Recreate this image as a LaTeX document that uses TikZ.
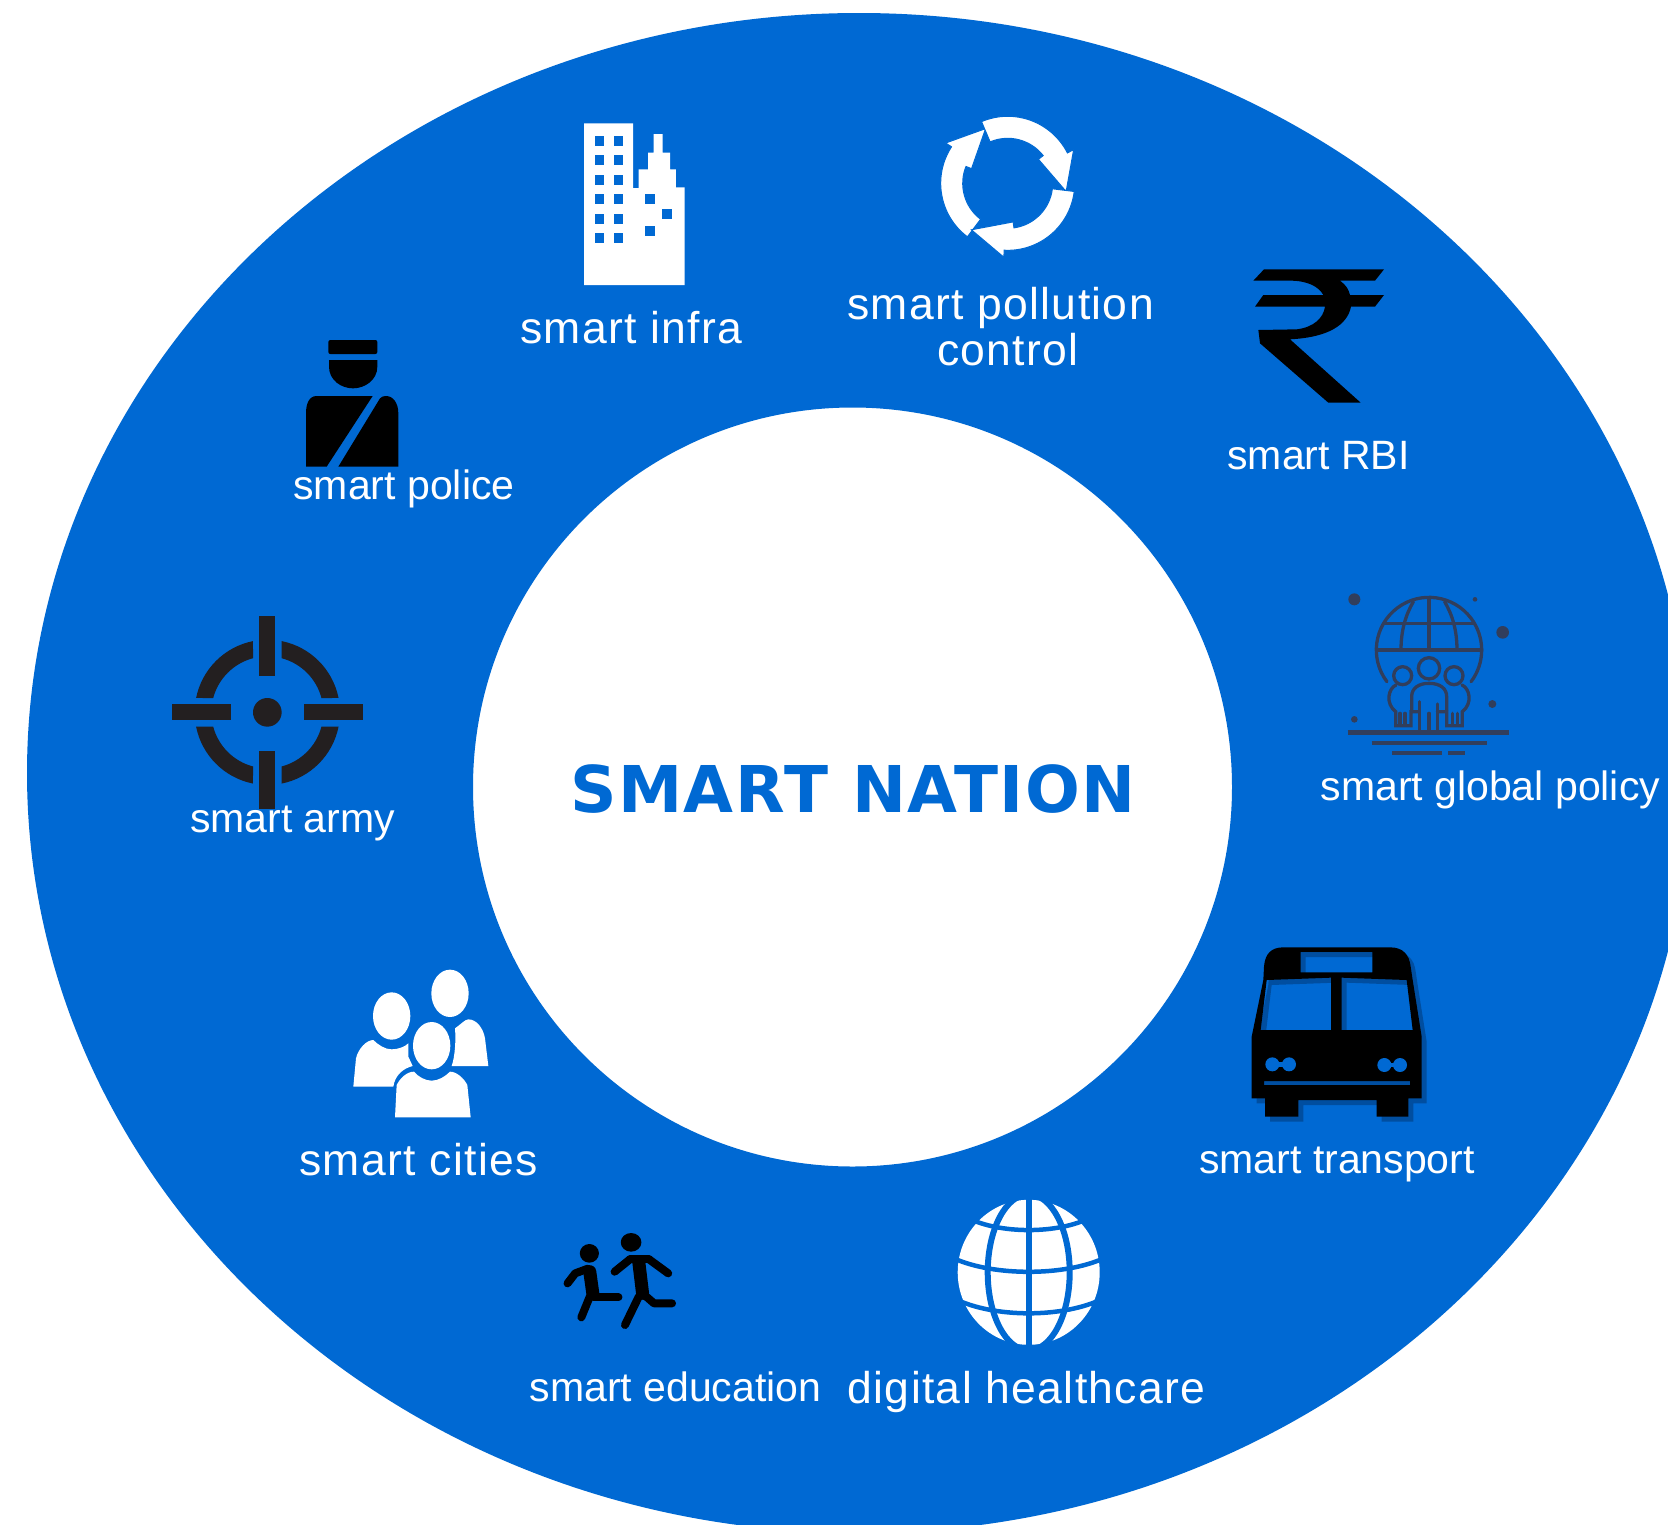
\documentclass[tikz,border=0pt]{standalone}
\usepackage{fontspec}
\setmainfont{Liberation Sans}
\newfontfamily\titlefont[LetterSpace=2.5]{DejaVu Sans}
\newfontfamily\wideface[LetterSpace=3]{Liberation Sans}
\definecolor{ringblue}{RGB}{0,105,211}
\definecolor{shadowblue}{RGB}{0,78,160}
\definecolor{targetink}{RGB}{35,31,32}
\definecolor{policyink}{RGB}{49,62,92}
\tikzset{
  bigtxt/.style={text=white,anchor=base,inner sep=0pt,font=\wideface\fontsize{44.5}{48}\selectfont},
  smalltxt/.style={text=white,anchor=base,inner sep=0pt,font=\fontsize{41}{44}\selectfont},
  titletxt/.style={text=ringblue,anchor=base,inner sep=0pt,font=\titlefont\bfseries\fontsize{64.5}{68}\selectfont},
  whiteicon/.style={fill=white,draw=none},
  blackicon/.style={fill=black,draw=none},
  policyline/.style={draw=policyink,line width=3.3pt,line cap=round},
  policybar/.style={draw=policyink,line width=4pt},
  limbthin/.style={draw=black,line width=8pt,line cap=round,line join=round},
  limbthick/.style={draw=black,line width=13pt,line cap=round,line join=round},
  globegrid/.style={draw=ringblue,line width=6pt}
}
\begin{document}
\begin{tikzpicture}[x=1pt,y=-1pt]
\useasboundingbox (0,0) rectangle (1668,1524);
\clip (0,0) rectangle (1668,1524);
\fill[white] (0,0) rectangle (1668,1524);
% ring
\fill[ringblue,even odd rule] (859,773) ellipse[x radius=832,y radius=760] (852.5,787) circle[radius=379.5];

% building
\fill[whiteicon] (584,123.3) -- (633,123.3) -- (633,188) -- (638.7,188) -- (638.7,169.3) -- (648,169.3) -- (648,152.7) -- (653.7,152.7) -- (653.7,134) -- (662.5,134) -- (662.5,152.7) -- (670,152.7) -- (670,169.3) -- (675.9,169.3) -- (675.9,187.3) -- (684.7,187.3) -- (684.7,285) -- (584,285) -- cycle;
\foreach \wx in {599.3,618.5}
  \foreach \wy in {141,160.3,179.7,199,218.7,238.3}
    \fill[ringblue] (\wx-4.5,\wy-5) rectangle (\wx+4.5,\wy+5);
\foreach \wx/\wy in {649.8/199,667.4/214,649.8/231.3}
  \fill[ringblue] (\wx-5,\wy-5) rectangle (\wx+5,\wy+5);

% recycling arrows
\begin{scope}[shift={(1007.7,183.3)}]
\foreach \ra in {0,120,240}
  \filldraw[fill=white,draw=ringblue,line width=1pt]
    ({\ra+127}:67) arc[start angle=\ra+127,end angle=\ra+213,radius=67]
    -- ({\ra+213}:74) -- ({\ra+248}:59) -- ({\ra+202}:39) -- ({\ra+202}:45)
    arc[start angle=\ra+202,end angle=\ra+127,radius=45] -- cycle;
\end{scope}

% rupee
\begin{scope}[shift={(1240,250)},scale=0.33333]
\fill[blackicon] (72,58) -- (432,58) -- (405,92) -- (300,92) .. controls (318,105) and (326,118) .. (330,135) -- (432,135) -- (405,170) -- (333,170) .. controls (322,225) and (265,262) .. (150,268) -- (362,458) -- (265,458) -- (60,280) -- (55,240) -- (170,238) .. controls (220,232) and (250,205) .. (255,170) -- (45,170) -- (70,135) -- (250,135) .. controls (235,108) and (200,92) .. (150,92) -- (40,92) -- cycle;
\end{scope}

% police
\begin{scope}[shift={(150,330)},scale=0.33333]
\fill[blackicon,rounded corners=2pt] (535,30) rectangle (682,72);
\fill[blackicon] (537,90) -- (682,90) -- (682,110) .. controls (682,150) and (645,175) .. (609,175) .. controls (573,175) and (537,150) .. (537,110) -- cycle;
\fill[blackicon] (468,410) -- (468,250) .. controls (468,220) and (478,198) .. (500,198) -- (668,198) -- (530,410) -- cycle;
\fill[blackicon] (565,410) -- (745,410) -- (745,250) .. controls (745,220) and (730,198) .. (708,198) .. controls (700,198) and (695,200) .. (690,205) -- cycle;
\end{scope}

% target
\begin{scope}[shift={(150,330)},scale=0.33333]
\begin{scope}[shift={(352,1147)}]
\foreach \ta in {0,90,180,270}
  \fill[targetink] ({\ta+11.4}:218) arc[start angle=\ta+11.4,end angle=\ta+78.6,radius=218]
    -- ({\ta+75.2}:168) arc[start angle=\ta+75.2,end angle=\ta+14.8,radius=168] -- cycle;
\fill[targetink] (0,0) circle[radius=43];
\fill[targetink] (-24,-289) rectangle (24,-110);
\fill[targetink] (-24,115) rectangle (24,290);
\fill[targetink] (-287,-24) rectangle (-109,24);
\fill[targetink] (110,-24) rectangle (288,24);
\end{scope}
\end{scope}

% global policy
\begin{scope}[shift={(1230,560)},scale=0.33333]
\begin{scope}[shift={(597,270)}]
\draw[policyline] (143:158) arc[start angle=143,end angle=397,radius=158];
\draw[policyline] (-158,0) -- (158,0);
\draw[policyline] (-135,-80) -- (135,-80);
\draw[policyline] (0,-155) -- (0,0);
\draw[policyline] (-47,-145) .. controls (-70,-105) and (-84,-60) .. (-84,0);
\draw[policyline] (47,-145) .. controls (70,-105) and (84,-60) .. (84,0);
\end{scope}
\draw[policyline] (597,325) circle[radius=32];
\draw[policyline] (518,347) circle[radius=27];
\draw[policyline] (672,347) circle[radius=27];
\draw[policyline] (545,450) -- (545,410) .. controls (545,385) and (565,370) .. (597,370) .. controls (630,370) and (650,385) .. (650,410) -- (650,450);
\draw[policyline] (568,425) -- (568,510);
\draw[policyline] (622,432) -- (622,510);
\draw[policyline] (597,460) -- (597,510);
\draw[policyline] (498,375) .. controls (475,385) and (465,430) .. (497,455) -- (497,497) -- (543,497) -- (543,455) -- (568,455);
\draw[policyline] (696,375) .. controls (719,385) and (729,430) .. (697,455) -- (697,497) -- (650,497) -- (650,455) -- (622,455);
\draw[policyline] (510,460) -- (510,495);
\draw[policyline] (525,460) -- (525,495);
\draw[policyline] (668,460) -- (668,495);
\draw[policyline] (683,460) -- (683,495);
\draw[policybar,line width=5pt] (353,518) -- (838,518);
\draw[policybar] (425,550) -- (770,550);
\draw[policybar] (487,580) -- (635,580);
\draw[policybar] (655,580) -- (706,580);
\fill[policyink] (373,118) circle[radius=18];
\fill[policyink] (735,118) circle[radius=7];
\fill[policyink] (818,217) circle[radius=19];
\fill[policyink] (787,432) circle[radius=12];
\fill[policyink] (373,478) circle[radius=10];
\end{scope}

% bus: shadow, then body
\begin{scope}[shift={(1230,930)},scale=0.33333]
\foreach \sx/\sy/\bc in {15/15/shadowblue,0/0/black}{
\begin{scope}[shift={(\sx,\sy)}]
\fill[\bc,even odd rule]
  (102,110) .. controls (105,70) and (125,52) .. (160,52) -- (480,52) .. controls (520,52) and (538,75) .. (542,110)
  -- (548,150) -- (575,320) -- (575,505) -- (535,505) -- (535,560) -- (440,560) -- (440,510) -- (205,510) -- (205,560) -- (105,560) -- (105,505) -- (65,505) -- (65,320) -- (100,150) -- cycle
  (110,150) -- (303,143) -- (303,300) -- (92,300) -- cycle
  (335,143) -- (530,150) -- (548,300) -- (335,300) -- cycle
  (212,66) rectangle (427,127)
  (102,453) rectangle (540,465);
\end{scope}}
\foreach \hx/\hy in {127/403,177/403,463/405,510/405}
  \fill[ringblue] (\hx,\hy) circle[radius=21];
\fill[ringblue] (127,396) rectangle (177,410);
\fill[ringblue] (463,398) rectangle (510,412);
\end{scope}

% people (cities)
\begin{scope}[shift={(340,960)},scale=0.33333]
\fill[whiteicon] (155,168) ellipse[x radius=56,y radius=71];
\fill[whiteicon] (330,100) ellipse[x radius=56,y radius=71];
\fill[whiteicon] (275,257) ellipse[x radius=56,y radius=71];
\fill[whiteicon] (40,380) -- (48,295) .. controls (55,265) and (80,240) .. (100,240) .. controls (115,255) and (135,268) .. (155,268) .. controls (175,268) and (195,260) .. (205,250) -- (205,290) -- (218,318) .. controls (190,325) and (165,345) .. (160,380) -- cycle;
\fill[whiteicon] (335,318) .. controls (345,290) and (348,240) .. (345,205) .. controls (360,195) and (375,178) .. (385,178) .. controls (410,178) and (430,205) .. (435,235) -- (445,318) -- cycle;
\fill[whiteicon] (165,472) -- (170,375) .. controls (180,355) and (200,335) .. (222,335) .. controls (235,350) and (255,362) .. (275,362) .. controls (295,362) and (315,350) .. (330,335) .. controls (350,335) and (372,355) .. (382,375) -- (392,472) -- cycle;
\end{scope}

% runners
\begin{scope}[shift={(540,1190)},xscale=0.3827,yscale=0.33333]
\fill[blackicon] (129,190) ellipse[x radius=25,y radius=28];
\fill[blackicon] (238,157) ellipse[x radius=27,y radius=28];
\draw[limbthick] (130,245) -- (138,310);
\draw[limbthin] (125,236) -- (92,250) -- (72,280);
\draw[limbthin] (130,320) -- (108,382);
\draw[limbthin] (140,322) -- (205,322);
\draw[limbthick] (258,215) -- (268,310);
\draw[limbthin] (235,208) -- (195,245);
\draw[limbthin] (285,208) -- (335,250);
\draw[limbthin] (235,208) -- (285,208);
\draw[limbthin] (258,320) -- (222,405);
\draw[limbthin] (278,320) -- (298,340) -- (345,340);
\end{scope}

% white globe
\begin{scope}[shift={(1028.7,1272.3)}]
\fill[whiteicon] (0,0) ellipse[x radius=71,y radius=72.5];
\draw[globegrid] (0,-75) -- (0,75);
\draw[globegrid] (0,0) ellipse[x radius=41,y radius=78];
\draw[globegrid,line width=4.5pt] (-62,-55) .. controls (-30,-38) and (30,-38) .. (62,-55);
\draw[globegrid,line width=4.5pt] (-75,-14) .. controls (-35,4) and (35,4) .. (75,-14);
\draw[globegrid,line width=4.5pt] (-75,26) .. controls (-35,46) and (35,46) .. (75,26);
\end{scope}

% texts
\node[titletxt] (title) at (853,812) {SMART NATION};
\node[bigtxt] (infra) at (631.4,343) {smart infra};
\node[bigtxt] (pollution) at (1000.5,319) {smart pollution};
\node[bigtxt] (control) at (1008,365) {control};
\node[smalltxt] (rbi) at (1318.6,469) {smart RBI};
\node[smalltxt] (police) at (404,499) {smart police};
\node[smalltxt] (army) at (292.6,832) {smart army};
\node[smalltxt] (globalpolicy) at (1490.4,800) {smart global policy};
\node[smalltxt] (transport) at (1337,1173) {smart transport};
\node[bigtxt] (cities) at (418.6,1175) {smart cities};
\node[smalltxt] (education) at (675.5,1401) {smart education};
\node[bigtxt] (healthcare) at (1026.6,1403) {digital healthcare};
\end{tikzpicture}
\end{document}
